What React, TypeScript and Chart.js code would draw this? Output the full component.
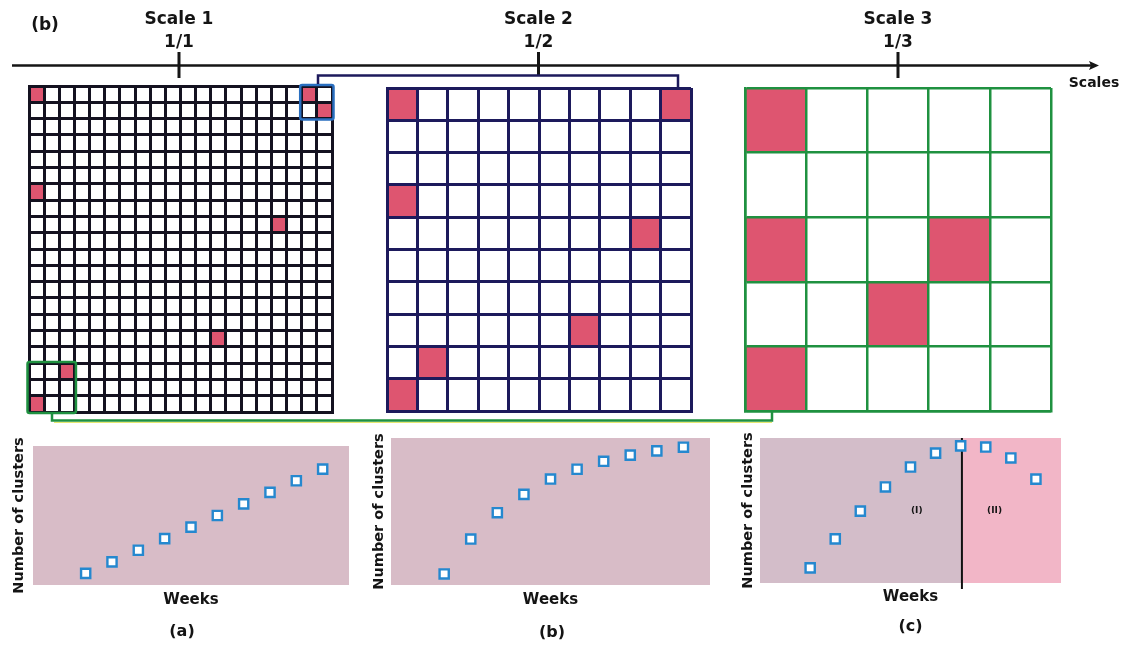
import React, { useEffect, useRef } from "react";
import { Chart, registerables } from "chart.js";
Chart.register(...registerables);

const FONT = '"DejaVu Sans", "Liberation Sans", sans-serif';

// ---- Timeline of scales ----
const scaleNames = ["Scale 1", "Scale 2", "Scale 3"];
const scaleRatios = ["1/1", "1/2", "1/3"];
const scalePositions = [1, 2, 3];
const axisName = "Scales";
const panelTag = "(b)";

// ---- Grids: highlighted cells as [column, row] from the top-left ----
const grid1Size = 20;
const grid1Cells = [[0, 0], [18, 0], [19, 1], [0, 6], [16, 8], [12, 15], [2, 17], [0, 19]];
const grid2Size = 10;
const grid2Cells = [[0, 0], [9, 0], [0, 3], [8, 4], [6, 7], [1, 8], [0, 9]];
const grid3Size = 5;
const grid3Cells = [[0, 0], [0, 2], [3, 2], [2, 3], [0, 4]];
// zoom boxes on the finest grid: [col0, row0, col1, row1]
const blueBox = [18, 0, 20, 2];
const greenBox = [0, 17, 3, 20];

// ---- Cluster plots ----
const weeks = [2, 3, 4, 5, 6, 7, 8, 9, 10, 11];
const clustersA = [1, 2, 3, 4, 5, 6, 7, 8, 9, 10];
const clustersB = [0.9, 3.75, 5.9, 7.4, 8.65, 9.45, 10.1, 10.6, 10.95, 11.25];
const clustersC = [1.25, 3.65, 5.95, 7.95, 9.6, 10.75, 11.35, 11.25, 10.35, 8.6];
const phaseBoundary = 8.05;
const phaseLabels = ["(I)", "(II)"];
const phaseLabelX = [6.25, 9.35];
const phaseLabelY = 6;
const captions = ["(a)", "(b)", "(c)"];
const xLabel = "Weeks";
const yLabel = "Number of clusters";

const PINK = "#de5570";
const TEXT = "#141414";
const NAVY = "#1d1a5c";
const GREEN = "#1f9140";
const BLUE = "#2a6fc0";

function GridChart({ n, cells, color, lineWidth, area, boxes }: any) {
  const ref = useRef<HTMLCanvasElement>(null);
  const pad = 6;
  const w = area.right - area.left + pad * 2;
  const h = area.bottom - area.top + pad * 2;
  useEffect(() => {
    const axis = (reverse: boolean) => ({
      type: "linear",
      min: 0,
      max: n,
      reverse,
      ticks: { display: false, stepSize: 1, maxTicksLimit: 100, autoSkip: false },
      grid: { color, lineWidth, drawTicks: false },
      border: { display: true, color, width: lineWidth },
    });
    const chart = new Chart(ref.current!, {
      type: "scatter",
      data: {
        datasets: [
          { data: cells.map(([c, r]: number[]) => ({ x: c + 0.5, y: r + 0.5 })), pointRadius: 0 },
        ],
      },
      options: {
        responsive: false,
        animation: false,
        layout: { padding: pad },
        plugins: { legend: { display: false }, tooltip: { enabled: false } },
        scales: { x: axis(false) as any, y: axis(true) as any },
      },
      plugins: [
        {
          id: "cells",
          beforeDraw(ch: any) {
            const { ctx } = ch;
            const x = ch.scales.x;
            const y = ch.scales.y;
            ctx.save();
            ctx.fillStyle = PINK;
            for (const [c, r] of cells) {
              const x0 = x.getPixelForValue(c);
              const x1 = x.getPixelForValue(c + 1);
              const y0 = y.getPixelForValue(r);
              const y1 = y.getPixelForValue(r + 1);
              ctx.fillRect(x0, y0, x1 - x0, y1 - y0);
            }
            ctx.restore();
          },
          afterDraw(ch: any) {
            if (!boxes) return;
            const { ctx } = ch;
            const x = ch.scales.x;
            const y = ch.scales.y;
            ctx.save();
            for (const b of boxes) {
              const [c0, r0, c1, r1] = b.cells;
              const x0 = x.getPixelForValue(c0) - 1.5;
              const x1 = x.getPixelForValue(c1) + 1.5;
              const y0 = y.getPixelForValue(r0) - 1;
              const y1 = y.getPixelForValue(r1) + 1;
              ctx.strokeStyle = b.color;
              ctx.lineWidth = 2.5;
              ctx.beginPath();
              ctx.roundRect(x0, y0, x1 - x0, y1 - y0, 2);
              ctx.stroke();
            }
            ctx.restore();
          },
        },
      ],
    } as any);
    return () => chart.destroy();
  }, []);
  return (
    <canvas
      ref={ref}
      width={w}
      height={h}
      style={{ position: "absolute", left: area.left - pad, top: area.top - pad, width: w, height: h }}
    />
  );
}

function ClusterPlot({ ys, area, bg, bg2, boundary, ylabelDx, weeksDy, captionDx, captionDy, caption, phase }: any) {
  const ref = useRef<HTMLCanvasElement>(null);
  const pl = 40, pt = 10, pr = 10, pb = 65;
  const w = area.right - area.left + pl + pr;
  const h = area.bottom - area.top + pt + pb;
  useEffect(() => {
    const chart = new Chart(ref.current!, {
      type: "scatter",
      data: {
        datasets: [
          {
            data: weeks.map((wk, i) => ({ x: wk, y: ys[i] })),
            pointStyle: "rect",
            pointRadius: 6.5,
            borderWidth: 2.4,
            borderColor: "#2588cf",
            backgroundColor: "#ffffff",
          },
        ],
      },
      options: {
        responsive: false,
        animation: false,
        layout: { padding: { left: pl, top: pt, right: pr, bottom: pb } },
        plugins: { legend: { display: false }, tooltip: { enabled: false } },
        scales: {
          x: { type: "linear", min: 0, max: 12, display: false },
          y: { type: "linear", min: 0, max: 12, display: false },
        },
      },
      plugins: [
        {
          id: "decor",
          beforeDraw(ch: any) {
            const { ctx, chartArea: a } = ch;
            ctx.save();
            ctx.fillStyle = bg;
            ctx.fillRect(a.left, a.top, a.right - a.left, a.bottom - a.top);
            if (boundary != null) {
              const bx = ch.scales.x.getPixelForValue(boundary);
              ctx.fillStyle = bg2;
              ctx.fillRect(bx, a.top, a.right - bx, a.bottom - a.top);
            }
            ctx.restore();
          },
          beforeDatasetsDraw(ch: any) {
            const { ctx, chartArea: a } = ch;
            ctx.save();
            if (boundary != null) {
              const bx = ch.scales.x.getPixelForValue(boundary);
              ctx.strokeStyle = "#111";
              ctx.lineWidth = 2;
              ctx.beginPath();
              ctx.moveTo(bx, a.top);
              ctx.lineTo(bx, a.bottom + 6);
              ctx.stroke();
            }
            if (phase) {
              ctx.fillStyle = TEXT;
              ctx.font = `bold 9px ${FONT}`;
              ctx.textAlign = "center";
              ctx.textBaseline = "middle";
              phaseLabels.forEach((t, i) => {
                ctx.fillText(t, ch.scales.x.getPixelForValue(phaseLabelX[i]), ch.scales.y.getPixelForValue(phaseLabelY));
              });
            }
            ctx.restore();
          },
          afterDraw(ch: any) {
            const { ctx, chartArea: a } = ch;
            const cx = (a.left + a.right) / 2;
            const cy = (a.top + a.bottom) / 2;
            ctx.save();
            ctx.fillStyle = TEXT;
            ctx.textAlign = "center";
            ctx.textBaseline = "middle";
            ctx.font = `bold 15px ${FONT}`;
            ctx.fillText(xLabel, cx, a.bottom + weeksDy);
            ctx.font = `bold 16px ${FONT}`;
            ctx.fillText(caption, cx + captionDx, a.bottom + captionDy);
            ctx.translate(a.left + ylabelDx, cy);
            ctx.rotate(-Math.PI / 2);
            ctx.font = `bold 14.5px ${FONT}`;
            ctx.fillText(yLabel, 0, 0);
            ctx.restore();
          },
        },
      ],
    } as any);
    return () => chart.destroy();
  }, []);
  return (
    <canvas
      ref={ref}
      width={w}
      height={h}
      style={{ position: "absolute", left: area.left - pl, top: area.top - pt, width: w, height: h }}
    />
  );
}

function Overlay() {
  const ref = useRef<HTMLCanvasElement>(null);
  useEffect(() => {
    const chart = new Chart(ref.current!, {
      type: "scatter",
      data: { datasets: [{ data: [] }] },
      options: {
        responsive: false,
        animation: false,
        layout: { padding: 0 },
        plugins: { legend: { display: false }, tooltip: { enabled: false } },
        scales: {
          x: { type: "linear", min: 0.5021, max: 3.6231, display: false },
          y: { type: "linear", min: 0, max: 1, display: false },
        },
      },
      plugins: [
        {
          id: "timeline",
          afterDraw(ch: any) {
            const { ctx } = ch;
            const xs = ch.scales.x;
            const axisY = 65.5;
            ctx.save();
            ctx.strokeStyle = "#151515";
            ctx.fillStyle = "#151515";
            ctx.lineWidth = 2.5;
            ctx.beginPath();
            ctx.moveTo(12, axisY);
            ctx.lineTo(1092, axisY);
            ctx.stroke();
            ctx.beginPath();
            ctx.moveTo(1099, axisY);
            ctx.lineTo(1089, axisY - 4.5);
            ctx.lineTo(1091, axisY);
            ctx.lineTo(1089, axisY + 4.5);
            ctx.closePath();
            ctx.fill();
            ctx.textAlign = "center";
            ctx.textBaseline = "middle";
            scalePositions.forEach((p, i) => {
              const tx = xs.getPixelForValue(p);
              ctx.lineWidth = 3;
              ctx.strokeStyle = "#151515";
              ctx.beginPath();
              ctx.moveTo(tx, 52);
              ctx.lineTo(tx, i === 1 ? 75 : 78);
              ctx.stroke();
              ctx.font = `bold 17px ${FONT}`;
              ctx.fillStyle = TEXT;
              ctx.fillText(scaleNames[i], tx, 20);
              ctx.fillText(scaleRatios[i], tx, 42.5);
            });
            ctx.font = `bold 17px ${FONT}`;
            ctx.fillText(panelTag, 45, 26);
            ctx.font = `bold 14px ${FONT}`;
            ctx.fillText(axisName, 1094, 83);
            ctx.lineWidth = 2.5;
            ctx.strokeStyle = NAVY;
            ctx.beginPath();
            ctx.moveTo(318, 84);
            ctx.lineTo(318, 75.5);
            ctx.lineTo(678, 75.5);
            ctx.lineTo(678, 87);
            ctx.stroke();
            ctx.strokeStyle = "#e6e870";
            ctx.lineWidth = 1;
            ctx.beginPath();
            ctx.moveTo(54, 422.5);
            ctx.lineTo(772, 422.5);
            ctx.stroke();
            ctx.strokeStyle = GREEN;
            ctx.lineWidth = 2.5;
            ctx.beginPath();
            ctx.moveTo(52, 412);
            ctx.lineTo(52, 420.5);
            ctx.lineTo(772, 420.5);
            ctx.lineTo(772, 411);
            ctx.stroke();
            ctx.restore();
          },
        },
      ],
    } as any);
    return () => chart.destroy();
  }, []);
  return (
    <canvas
      ref={ref}
      width={1122}
      height={646}
      style={{ position: "absolute", left: 0, top: 0, width: 1122, height: 646, pointerEvents: "none" }}
    />
  );
}

export default function App() {
  return (
    <div
      style={{
        position: "absolute",
        left: 0,
        top: 0,
        width: 1122,
        height: 646,
        background: "#ffffff",
        overflow: "hidden",
      }}
    >
      <GridChart
        n={grid1Size}
        cells={grid1Cells}
        color="#141220"
        lineWidth={3}
        area={{ left: 28.5, right: 332, top: 85.5, bottom: 411.5 }}
        boxes={[
          { cells: blueBox, color: BLUE },
          { cells: greenBox, color: GREEN },
        ]}
      />
      <GridChart
        n={grid2Size}
        cells={grid2Cells}
        color={NAVY}
        lineWidth={3}
        area={{ left: 386.5, right: 690.5, top: 87.5, bottom: 411 }}
      />
      <GridChart
        n={grid3Size}
        cells={grid3Cells}
        color={GREEN}
        lineWidth={2.5}
        area={{ left: 745, right: 1051, top: 87.5, bottom: 411 }}
      />
      <ClusterPlot
        ys={clustersA}
        area={{ left: 33, right: 349, top: 446, bottom: 585 }}
        bg="#d8bcc7"
        ylabelDx={-14}
        weeksDy={15}
        captionDx={-9}
        captionDy={47}
        caption={captions[0]}
      />
      <ClusterPlot
        ys={clustersB}
        area={{ left: 391, right: 710, top: 438, bottom: 585 }}
        bg="#d8bcc7"
        ylabelDx={-12}
        weeksDy={15}
        captionDx={1.5}
        captionDy={48}
        caption={captions[1]}
      />
      <ClusterPlot
        ys={clustersC}
        area={{ left: 760, right: 1061, top: 438, bottom: 583 }}
        bg="#d3bdc9"
        bg2="#f2b6c7"
        boundary={phaseBoundary}
        phase
        ylabelDx={-12}
        weeksDy={14}
        captionDx={0}
        captionDy={44}
        caption={captions[2]}
      />
      <Overlay />
    </div>
  );
}
